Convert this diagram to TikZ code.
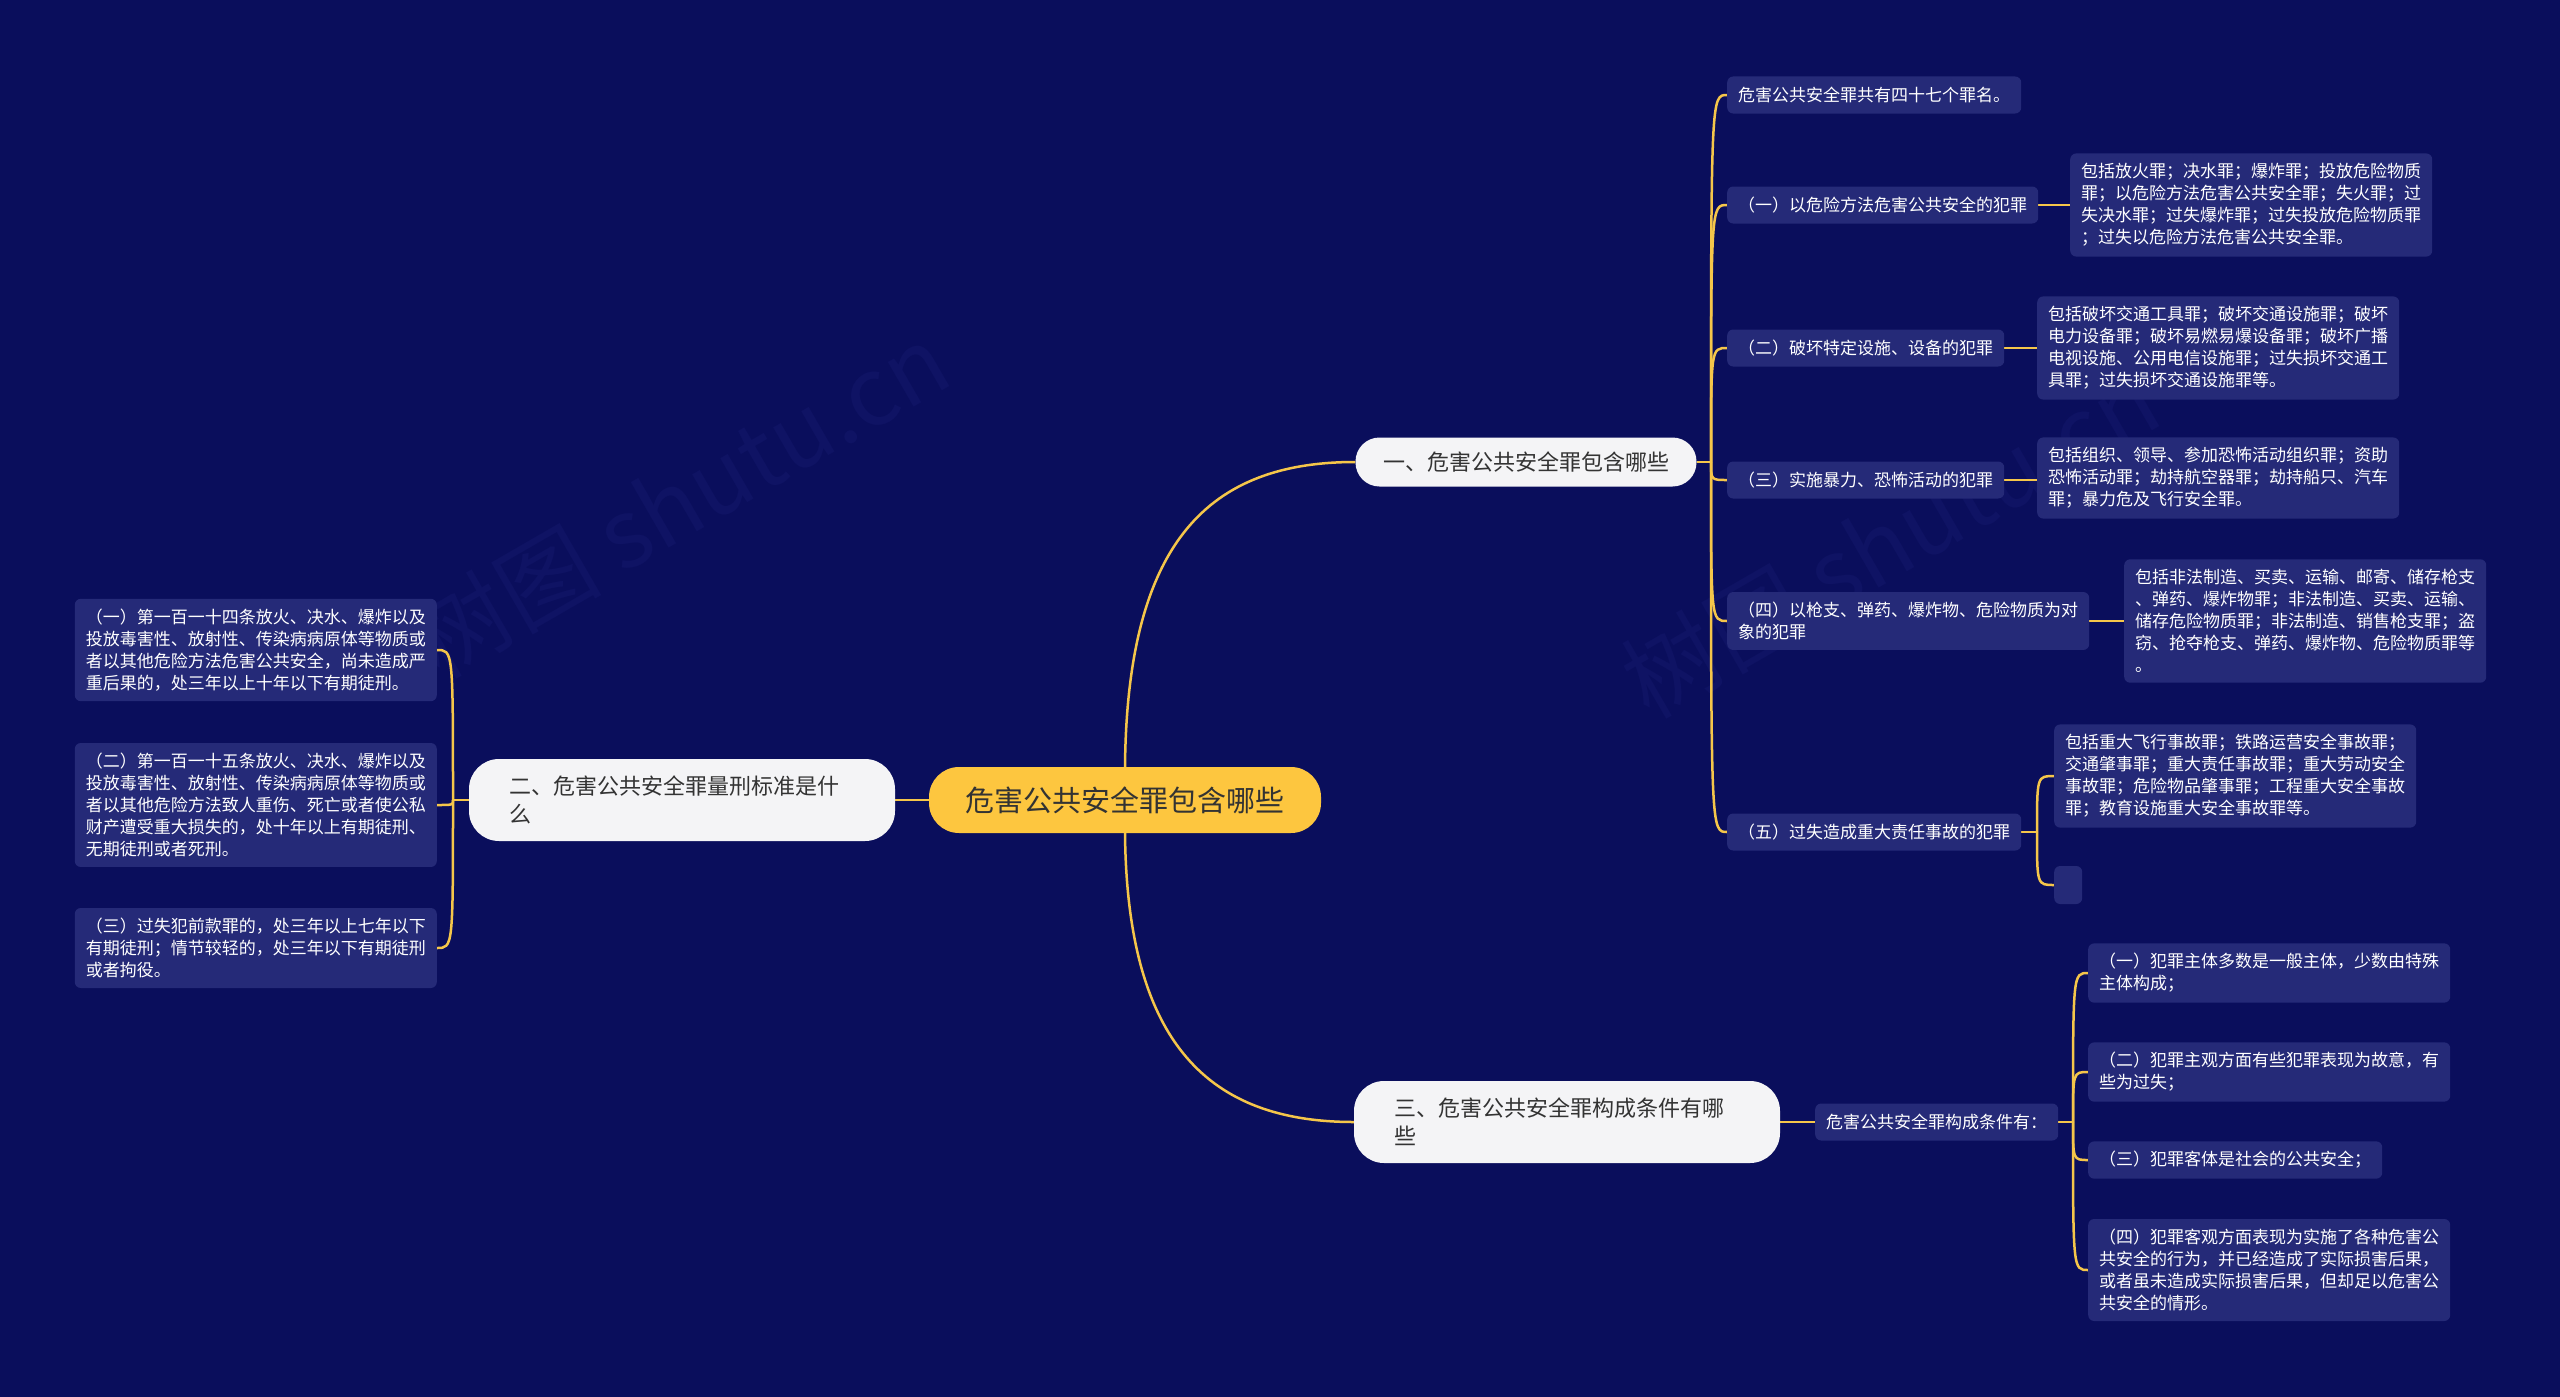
\documentclass[tikz,border=0pt]{standalone}
\usepackage{fontspec}
\setmainfont{Noto Sans CJK SC}
\usetikzlibrary{backgrounds}
\definecolor{bgc}{HTML}{0A0E5C}
\definecolor{boxc}{HTML}{252A78}
\definecolor{linec}{HTML}{F5C64A}
\definecolor{rootc}{HTML}{FDC63F}
\definecolor{whitec}{HTML}{F4F4F6}
\definecolor{darktext}{HTML}{333333}
\definecolor{wmc}{HTML}{0F1364}
\tikzset{
  rootnode/.style={fill=rootc, rounded corners=30pt, minimum height=66pt, minimum width=392pt,
    inner sep=0pt, font=\fontsize{29}{34}\selectfont, text=darktext},
  mainone/.style={fill=whitec, rounded corners=24pt, minimum height=49pt, minimum width=341pt,
    inner sep=0pt, font=\fontsize{22}{28}\selectfont, text=darktext},
  maintwo/.style={fill=whitec, rounded corners=30pt, minimum height=82pt, text width=346pt,
    inner xsep=40pt, inner ysep=0pt, align=left, font=\fontsize{22}{28}\selectfont, text=darktext},
  leaf/.style={fill=boxc, rounded corners=6pt, text=white, font=\fontsize{17}{22}\selectfont,
    align=left, inner xsep=11pt, inner ysep=10pt, minimum height=37pt},
  conn/.style={draw=linec, line width=2.5pt},
  wm/.style={text=wmc, font=\fontsize{95}{100}\selectfont, rotate=30}
}
\begin{document}
\begin{tikzpicture}[x=1pt,y=-1pt]
\useasboundingbox (0,0) rectangle (2560,1397);

% root and main branches
\node[rootnode] (root) at (1125,800) {危害公共安全罪包含哪些};
\node[mainone] (n1) at (1526,462) {一、危害公共安全罪包含哪些};
\node[maintwo] (n2) at (682,800) {二、危害公共安全罪量刑标准是什\\么};
\node[maintwo] (n3) at (1567,1122) {三、危害公共安全罪构成条件有哪\\些};

% branch one children
\node[leaf, anchor=west] (r1) at (1727,95) {危害公共安全罪共有四十七个罪名。};
\node[leaf, anchor=west] (r2) at (1727,205) {（一）以危险方法危害公共安全的犯罪};
\node[leaf, anchor=west] (r2c) at (2070,205) {包括放火罪；决水罪；爆炸罪；投放危险物质\\罪；以危险方法危害公共安全罪；失火罪；过\\失决水罪；过失爆炸罪；过失投放危险物质罪\\；过失以危险方法危害公共安全罪。};
\node[leaf, anchor=west] (r3) at (1727,348) {（二）破坏特定设施、设备的犯罪};
\node[leaf, anchor=west] (r3c) at (2037,348) {包括破坏交通工具罪；破坏交通设施罪；破坏\\电力设备罪；破坏易燃易爆设备罪；破坏广播\\电视设施、公用电信设施罪；过失损坏交通工\\具罪；过失损坏交通设施罪等。};
\node[leaf, anchor=west] (r4) at (1727,480) {（三）实施暴力、恐怖活动的犯罪};
\node[leaf, anchor=west] (r4c) at (2037,478) {包括组织、领导、参加恐怖活动组织罪；资助\\恐怖活动罪；劫持航空器罪；劫持船只、汽车\\罪；暴力危及飞行安全罪。};
\node[leaf, anchor=west] (r5) at (1727,621) {（四）以枪支、弹药、爆炸物、危险物质为对\\象的犯罪};
\node[leaf, anchor=west] (r5c) at (2124,621) {包括非法制造、买卖、运输、邮寄、储存枪支\\、弹药、爆炸物罪；非法制造、买卖、运输、\\储存危险物质罪；非法制造、销售枪支罪；盗\\窃、抢夺枪支、弹药、爆炸物、危险物质罪等\\。};
\node[leaf, anchor=west] (r6) at (1727,832) {（五）过失造成重大责任事故的犯罪};
\node[leaf, anchor=west] (r6c) at (2054,776) {包括重大飞行事故罪；铁路运营安全事故罪；\\交通肇事罪；重大责任事故罪；重大劳动安全\\事故罪；危险物品肇事罪；工程重大安全事故\\罪；教育设施重大安全事故罪等。};
\node[leaf, anchor=west, inner sep=0pt, minimum width=28pt, minimum height=38pt] (r6e) at (2054,885) {};

% branch two children
\node[leaf, anchor=east] (l1) at (437,650) {（一）第一百一十四条放火、决水、爆炸以及\\投放毒害性、放射性、传染病病原体等物质或\\者以其他危险方法危害公共安全，尚未造成严\\重后果的，处三年以上十年以下有期徒刑。};
\node[leaf, anchor=east] (l2) at (437,805) {（二）第一百一十五条放火、决水、爆炸以及\\投放毒害性、放射性、传染病病原体等物质或\\者以其他危险方法致人重伤、死亡或者使公私\\财产遭受重大损失的，处十年以上有期徒刑、\\无期徒刑或者死刑。};
\node[leaf, anchor=east] (l3) at (437,948) {（三）过失犯前款罪的，处三年以上七年以下\\有期徒刑；情节较轻的，处三年以下有期徒刑\\或者拘役。};

% branch three children
\node[leaf, anchor=west] (c0) at (1815,1122) {危害公共安全罪构成条件有：};
\node[leaf, anchor=west] (c1) at (2088,973) {（一）犯罪主体多数是一般主体，少数由特殊\\主体构成；};
\node[leaf, anchor=west] (c2) at (2088,1072) {（二）犯罪主观方面有些犯罪表现为故意，有\\些为过失；};
\node[leaf, anchor=west] (c3) at (2088,1160) {（三）犯罪客体是社会的公共安全；};
\node[leaf, anchor=west] (c4) at (2088,1270) {（四）犯罪客观方面表现为实施了各种危害公\\共安全的行为，并已经造成了实际损害后果，\\或者虽未造成实际损害后果，但却足以危害公\\共安全的情形。};

% junctions
\coordinate (j1) at (1711,462);
\coordinate (j2) at (453,800);
\coordinate (j3) at (2073,1122);
\coordinate (j4) at (2037,832);

\begin{scope}[on background layer]
\fill[bgc] (0,0) rectangle (2560,1397);
\node[wm] (w1) at (680,500) {树图 shutu.cn};
\node[wm] (w2) at (1890,540) {树图 shutu.cn};
% connectors
\draw[conn] (root.north) .. controls (1127,540) and (1210,462) .. (n1.west);
\draw[conn] (root.south) .. controls (1127,1045) and (1210,1122) .. (n3.west);
\draw[conn] (root.west) -- (n2.east);

\draw[conn] (n1.east) -- (j1);
\foreach \t in {r1,r2,r3,r4,r5,r6}{
  \draw[conn] (j1) .. controls (j1 |- \t.west) .. (\t.west);
}
\draw[conn] (r2.east) -- (r2c.west |- r2.east);
\draw[conn] (r3.east) -- (r3c.west |- r3.east);
\draw[conn] (r4.east) -- (r4c.west |- r4.east);
\draw[conn] (r5.east) -- (r5c.west |- r5.east);
\draw[conn] (r6.east) -- (j4);
\draw[conn] (j4) .. controls (j4 |- r6c.west) .. (r6c.west);
\draw[conn] (j4) .. controls (j4 |- r6e.west) .. (r6e.west);

\draw[conn] (n2.west) -- (j2);
\foreach \t in {l1,l2,l3}{
  \draw[conn] (j2) .. controls (j2 |- \t.east) .. (\t.east);
}

\draw[conn] (n3.east) -- (c0.west);
\draw[conn] (c0.east) -- (j3);
\foreach \t in {c1,c2,c3,c4}{
  \draw[conn] (j3) .. controls (j3 |- \t.west) .. (\t.west);
}
\end{scope}
\end{tikzpicture}
\end{document}
